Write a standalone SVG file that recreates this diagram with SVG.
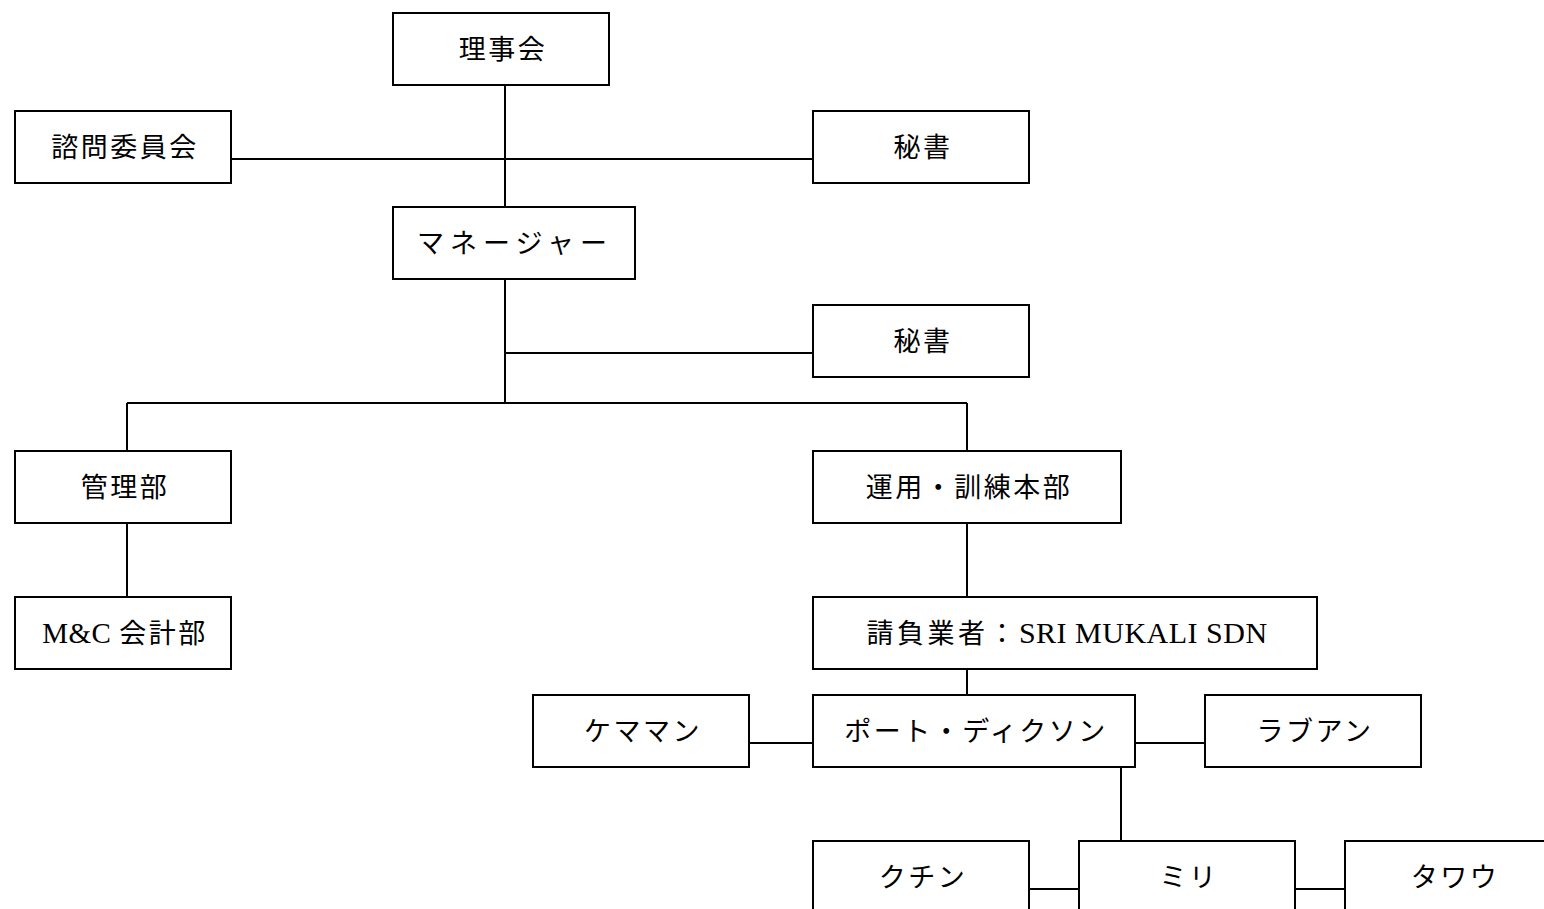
<svg xmlns="http://www.w3.org/2000/svg" width="1544" height="909" viewBox="0 0 1544 909">
<style>
.box{fill:#fff;stroke:#000;stroke-width:2}
.t{font-family:"Liberation Serif","Noto Sans CJK JP",serif;font-size:27px;letter-spacing:2.5px;text-anchor:middle;fill:#000}
.c{fill:none;stroke:#000;stroke-width:2}
</style>
<rect width="1544" height="909" fill="#fff"/>
<g id="connectors">
<path class="c" d="M505 85V403M231 159H813M505 353H813M127 403H967M127 403V451M967 403V451M127 523V597M967 523V597M967 669V695M749 743H813M1135 743H1205M1121 767V841M1029 889H1079M1295 889H1345"/>
</g>
<g id="n-board"><rect class="box" x="393" y="13" width="216" height="72"/><text class="t" x="503" y="59">理事会</text></g>
<g id="n-advisory"><rect class="box" x="15" y="111" width="216" height="72"/><text class="t" x="125" y="157">諮問委員会</text></g>
<g id="n-secretary1"><rect class="box" x="813" y="111" width="216" height="72"/><text class="t" x="923" y="157">秘書</text></g>
<g id="n-manager"><rect class="box" x="393" y="207" width="242" height="72"/><text class="t" x="515" y="253" style="letter-spacing:6px">マネージャー</text></g>
<g id="n-secretary2"><rect class="box" x="813" y="305" width="216" height="72"/><text class="t" x="923" y="351">秘書</text></g>
<g id="n-admin"><rect class="box" x="15" y="451" width="216" height="72"/><text class="t" x="125" y="497">管理部</text></g>
<g id="n-ops"><rect class="box" x="813" y="451" width="308" height="72"/><text class="t" x="969" y="497">運用・訓練本部</text></g>
<g id="n-mc"><rect class="box" x="15" y="597" width="216" height="72"/><text class="t" x="125" y="643"><tspan style="font-size:29px;letter-spacing:0.5px">M&amp;C </tspan>会計部</text></g>
<g id="n-contractor"><rect class="box" x="813" y="597" width="504" height="72"/><text class="t" x="1067" y="643" style="letter-spacing:3.5px">請負業者：<tspan style="font-size:30px;letter-spacing:0.5px">SRI MUKALI SDN</tspan></text></g>
<g id="n-kemaman"><rect class="box" x="533" y="695" width="216" height="72"/><text class="t" x="643" y="741">ケママン</text></g>
<g id="n-portdickson"><rect class="box" x="813" y="695" width="322" height="72"/><text class="t" x="976" y="741">ポート・ディクソン</text></g>
<g id="n-labuan"><rect class="box" x="1205" y="695" width="216" height="72"/><text class="t" x="1315" y="741">ラブアン</text></g>
<g id="n-kuching"><rect class="box" x="813" y="841" width="216" height="80"/><text class="t" x="923" y="887">クチン</text></g>
<g id="n-miri"><rect class="box" x="1079" y="841" width="216" height="80"/><text class="t" x="1189" y="887">ミリ</text></g>
<g id="n-tawau"><rect class="box" x="1345" y="841" width="216" height="80"/><text class="t" x="1455" y="887">タワウ</text></g>
</svg>
